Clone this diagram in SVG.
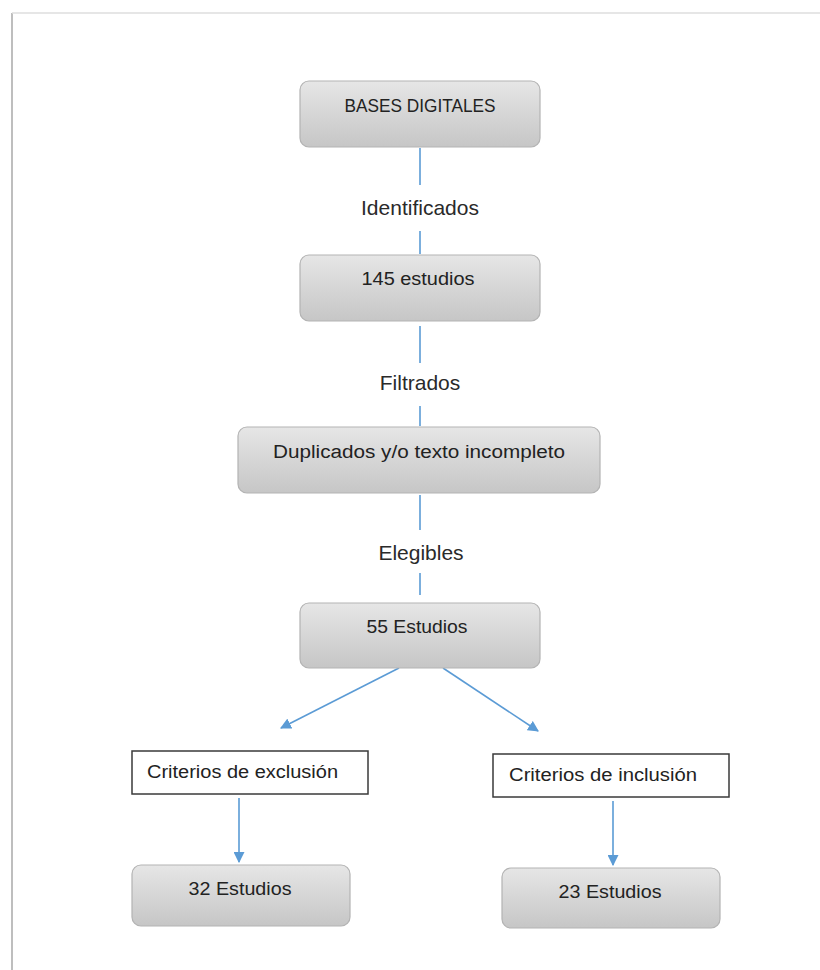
<svg xmlns="http://www.w3.org/2000/svg" width="820" height="970" viewBox="0 0 820 970">
<defs>
<linearGradient id="g" x1="0" y1="0" x2="0" y2="1">
<stop offset="0" stop-color="#e6e6e6"/>
<stop offset="1" stop-color="#c6c6c6"/>
</linearGradient>
<marker id="ah" viewBox="0 0 10 10" refX="9" refY="5" markerWidth="11" markerHeight="11" markerUnits="userSpaceOnUse" orient="auto">
<path d="M0,0 L10,5 L0,10 z" fill="#5b9bd5"/>
</marker>
<filter id="sh" x="-10%" y="-10%" width="130%" height="130%">
<feGaussianBlur stdDeviation="1.5"/>
</filter>
</defs>
<style>
.box{fill:url(#g);stroke:#b3b3b3;stroke-width:1.2}
.wbox{fill:#fff;stroke:#3a3a3a;stroke-width:1.5}
.bt{font-family:"Liberation Sans",Arial,sans-serif;font-size:18px;fill:#222;text-anchor:middle}
.lt{font-family:"Liberation Sans",Arial,sans-serif;font-size:18px;fill:#222}
.lab{font-family:"Liberation Sans",Arial,sans-serif;font-size:21px;fill:#2a2a2a;text-anchor:middle}
.c{stroke:#5b9bd5;stroke-width:1.6;fill:none}
.ca{stroke:#5b9bd5;stroke-width:1.6;fill:none;marker-end:url(#ah)}
</style>
<rect width="820" height="970" fill="#fff"/>
<g id="frame">
<line x1="13" y1="14" x2="13" y2="970" stroke="#c0c0c0" stroke-width="6" filter="url(#sh)"/>
<line x1="12" y1="13" x2="12" y2="970" stroke="#a8a8a8" stroke-width="1.5"/>
<line x1="12" y1="13" x2="820" y2="13" stroke="#dedede" stroke-width="1.5"/>
</g>
<g id="connectors">
<line class="c" x1="420" y1="148" x2="420" y2="185"/>
<line class="c" x1="420" y1="231" x2="420" y2="254"/>
<line class="c" x1="420" y1="326" x2="420" y2="363"/>
<line class="c" x1="420" y1="406" x2="420" y2="426"/>
<line class="c" x1="420" y1="495" x2="420" y2="530"/>
<line class="c" x1="420" y1="573" x2="420" y2="595"/>
<line class="ca" x1="399" y1="668" x2="281" y2="728"/>
<line class="ca" x1="443" y1="668" x2="538" y2="731"/>
<line class="ca" x1="239" y1="798" x2="239" y2="862"/>
<line class="ca" x1="613" y1="801" x2="613" y2="865"/>
</g>
<g id="n1"><rect class="box" x="300" y="81" width="240" height="66" rx="9"/><text class="bt" x="420" y="112" textLength="151" lengthAdjust="spacingAndGlyphs" style="font-size:19px">BASES DIGITALES</text></g>
<g id="l1"><text class="lab" x="420" y="215">Identificados</text></g>
<g id="n2"><rect class="box" x="300" y="255" width="240" height="66" rx="9"/><text class="bt" x="418" y="285" textLength="113" lengthAdjust="spacingAndGlyphs">145 estudios</text></g>
<g id="l2"><text class="lab" x="420" y="390">Filtrados</text></g>
<g id="n3"><rect class="box" x="238" y="427" width="362" height="66" rx="9"/><text class="bt" x="419" y="458" textLength="292" lengthAdjust="spacingAndGlyphs">Duplicados y/o texto incompleto</text></g>
<g id="l3"><text class="lab" x="421" y="560">Elegibles</text></g>
<g id="n4"><rect class="box" x="300" y="603" width="240" height="65" rx="9"/><text class="bt" x="417" y="633" textLength="101" lengthAdjust="spacingAndGlyphs">55 Estudios</text></g>
<g id="n5"><rect class="wbox" x="132" y="751" width="236" height="43"/><text class="lt" x="147" y="778" textLength="191" lengthAdjust="spacingAndGlyphs">Criterios de exclusión</text></g>
<g id="n6"><rect class="wbox" x="493" y="754" width="236" height="43"/><text class="lt" x="509" y="781" textLength="188" lengthAdjust="spacingAndGlyphs">Criterios de inclusión</text></g>
<g id="n7"><rect class="box" x="132" y="865" width="218" height="61" rx="9"/><text class="bt" x="240" y="895" textLength="103" lengthAdjust="spacingAndGlyphs">32 Estudios</text></g>
<g id="n8"><rect class="box" x="502" y="868" width="218" height="60" rx="9"/><text class="bt" x="610" y="898" textLength="103" lengthAdjust="spacingAndGlyphs">23 Estudios</text></g>
</svg>
